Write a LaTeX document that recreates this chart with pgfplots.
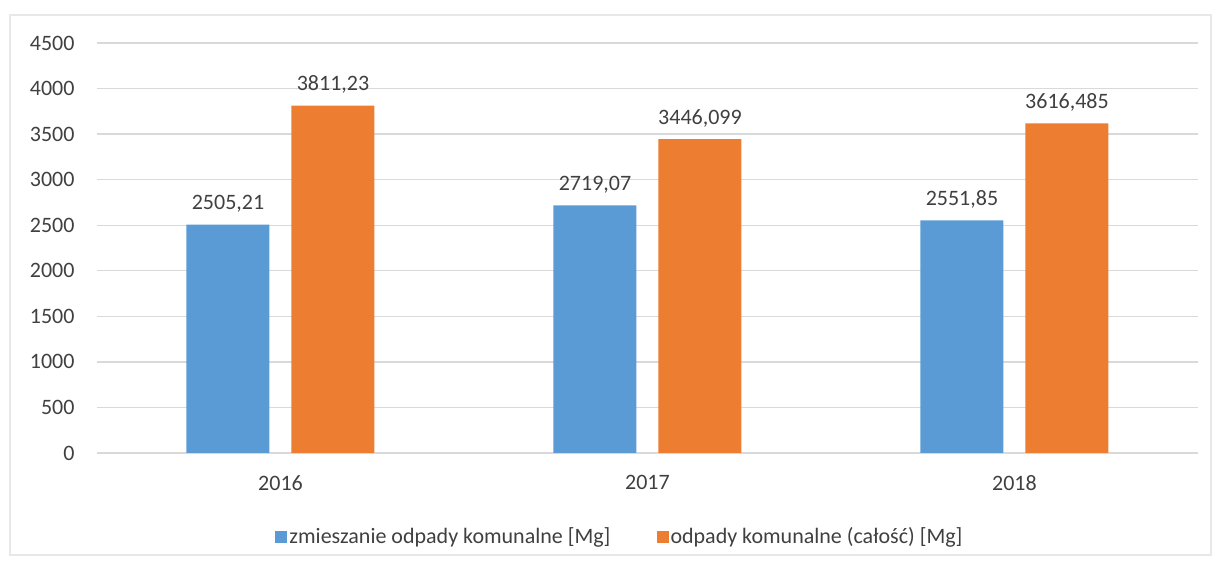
\documentclass[border=0pt]{standalone}
\usepackage{pgfplots}
\pgfplotsset{compat=1.18}
\usepackage{fontspec}
\setmainfont{Carlito}

\definecolor{barblue}{RGB}{91,155,213}
\definecolor{barorange}{RGB}{237,125,49}
\definecolor{txt}{RGB}{64,64,64}
\definecolor{gridc}{RGB}{217,217,217}

\begin{document}
\fontsize{22bp}{26bp}\selectfont
\begin{tikzpicture}[x=1bp,y=1bp]
\useasboundingbox (0,0) rectangle (1217,565);
\draw[gray!18, line width=2bp] (10,10) rectangle (1211,550);
\begin{axis}[
    at={(97bp,112bp)}, anchor=south west,
    scale only axis,
    width=1101bp, height=410bp,
    ybar=22bp,
    bar width=83bp,
    xmin=-0.5, xmax=2.5,
    ymin=0, ymax=4500,
    xtick=data,
    xticklabels={2016,2017,2018},
    ytick={0,500,...,4500},
    ymajorgrids=true,
    grid style={gridc, line width=1.3bp},
    axis line style={draw=none},
    major tick length=0pt,
    tick label style={text=txt},
    yticklabel style={xshift=-15bp},
    xticklabel style={yshift=-15bp},
    /pgf/number format/.cd, fixed, precision=3, use comma, 1000 sep={}, assume math mode=true,
    /pgfplots/.cd,
    nodes near coords,
    nodes near coords style={anchor=base, yshift=15bp, text=txt, inner sep=0pt},
    legend style={
      at={(0.475,-0.205)}, anchor=center,
      draw=none, fill=none,
      legend columns=2,
      text=txt,
      /tikz/every even column/.append style={column sep=44bp},
    },
    legend image code/.code={\fill[#1] (-4bp,-6bp) rectangle (8bp,6bp);},
]
\addplot[fill=barblue, draw=none] coordinates {(0,2505.21) (1,2719.07) (2,2551.85)};
\addlegendentry{zmieszanie odpady komunalne [Mg]}

\addplot[fill=barorange, draw=none] coordinates {(0,3811.23) (1,3446.099) (2,3616.485)};
\addlegendentry{odpady komunalne (całość) [Mg]}
\end{axis}
\end{tikzpicture}
\end{document}
